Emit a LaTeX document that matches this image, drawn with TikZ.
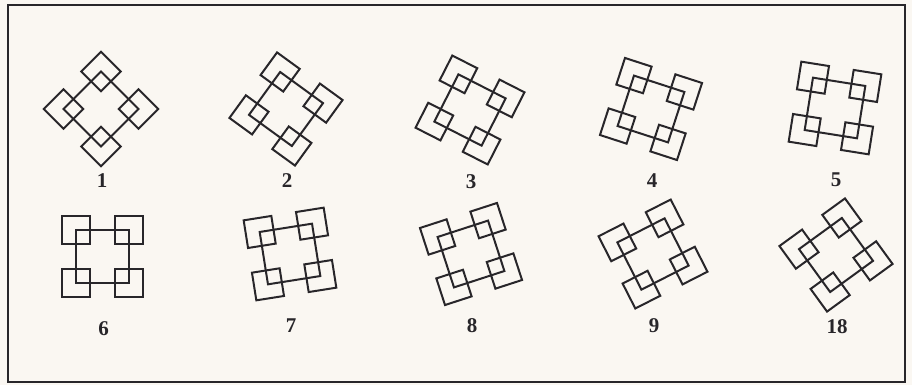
\documentclass[tikz,border=0pt]{standalone}
\usepackage{amsmath}
\usepackage{fontspec}
\newfontfamily\labelfont{Liberation Serif}
\definecolor{paper}{RGB}{250,247,242}
\definecolor{ink}{RGB}{40,38,42}
\begin{document}
\begin{tikzpicture}[x=1pt,y=-1pt]
    \tikzstyle{every node}=[font={\labelfont\bfseries\fontsize{21}{21}\selectfont}, text=ink]
    \tikzstyle{frame}=[draw=ink, line width=2pt, line join=miter]
    \fill[paper] (0,0) rectangle (912,385);
    \useasboundingbox (0,0) rectangle (912,385);
    \draw[ink, line width=2.4pt] (8,5) rectangle (905,382);
    \foreach \x/\y/\a/\lbl [count=\i] in {101/109/-45/1, 286/109/-36/2, 470/110/-27/3,
        651/109/-18/4, 835/108/-9/5, 102.5/256.5/0/6, 290/254/9/7, 471/254/18/8,
        653/254/27/9, 836/255/36/18}{
        \begin{scope}[shift={(\x,\y)}, rotate=\a]
            \draw[frame] (-26.5,-26.5) rectangle (26.5,26.5);
            \foreach \cx in {-26.5,26.5}
                \foreach \cy in {-26.5,26.5}
                    \draw[frame] (\cx-14,\cy-14) rectangle ++(28,28);
        \end{scope}
        \node (lab\i) at (\x+1,\y+72) {\lbl};
    }
\end{tikzpicture}
\end{document}
